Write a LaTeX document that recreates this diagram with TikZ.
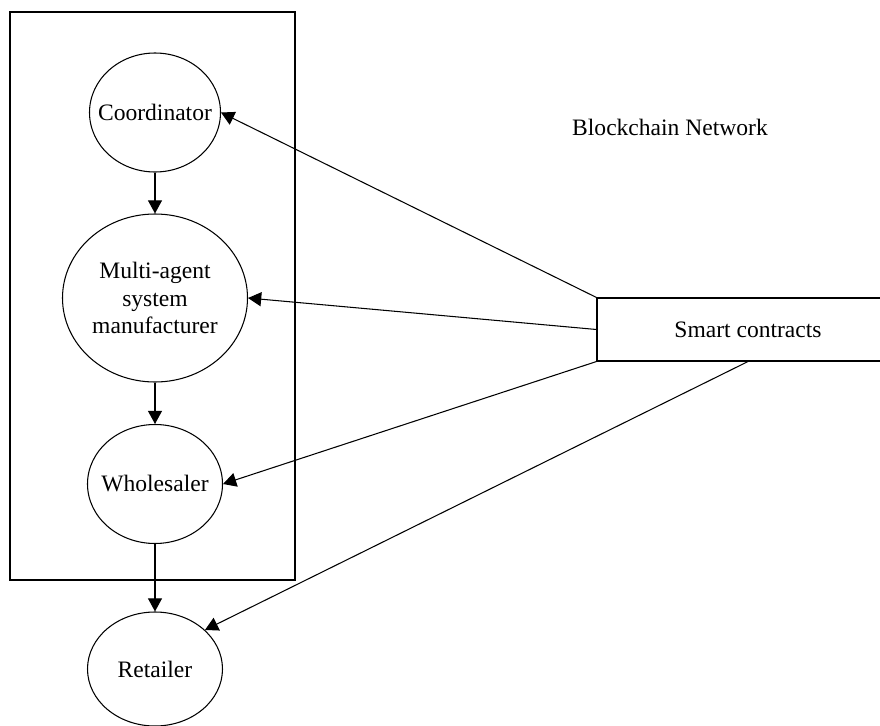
\documentclass[tikz,border=0pt]{standalone}
\usepackage{fontspec}
\setmainfont{Liberation Serif}
\usepackage{tikz}
\usetikzlibrary{shapes.geometric,arrows.meta}

\begin{document}
\begin{tikzpicture}[
    font=\fontsize{13.4}{15.6}\selectfont,
    agent/.style={
        ellipse,draw,line width=0.6pt,
        inner xsep=-2cm,inner ysep=-2cm,
        align=center
    },
    frame/.style={
        rectangle,draw,line width=0.6pt,
        minimum width=5.7cm,
        minimum height=11.36cm
    },
    contract/.style={
        rectangle,draw,line width=0.6pt,
        minimum width=6.04cm,
        minimum height=1.26cm
    },
    arrow/.style={-{Triangle[length=7.5pt,width=8pt]},line width=0.6pt}
]
\useasboundingbox (0,0) rectangle (17.6,-14.52);

\node[frame] (group) at (3.05,-5.92) {};
\node[agent, minimum width=2.62cm, minimum height=2.38cm] (coord) at (3.10,-2.25) {Coordinator};
\node[agent, minimum width=3.7cm, minimum height=3.36cm] (mas) at (3.10,-5.96) {Multi-agent\\system\\manufacturer};
\node[agent, minimum width=2.7cm, minimum height=2.38cm] (whole) at (3.10,-9.68) {Wholesaler};
\node[agent, minimum width=2.7cm, minimum height=2.28cm] (retail) at (3.10,-13.38) {Retailer};

\node[contract] (smart) at (14.96,-6.59) {Smart contracts};
\node (chain) at (13.40,-2.54) {Blockchain Network};

\draw[arrow] (coord) -- (mas);
\draw[arrow] (mas) -- (whole);
\draw[arrow] (whole) -- (retail);

\draw[arrow] (smart.north west) -- (coord.east);
\draw[arrow] (smart.west) -- (mas.east);
\draw[arrow] (smart.south west) -- (whole.east);
\draw[arrow] (smart.south) -- (retail.38);
\end{tikzpicture}
\end{document}
